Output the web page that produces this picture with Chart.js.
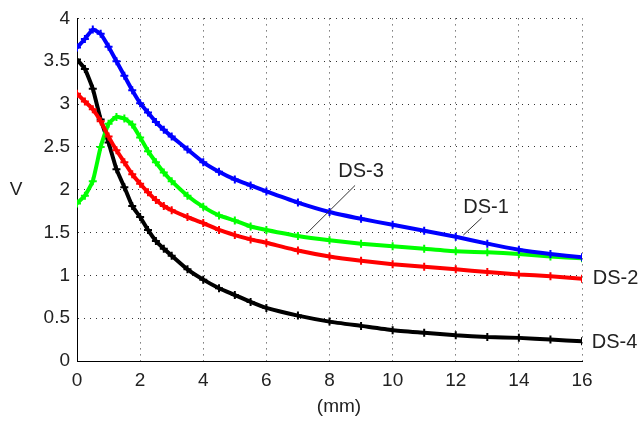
<!DOCTYPE html>
<html>
<head>
<meta charset="utf-8">
<script src="https://cdn.jsdelivr.net/npm/chart.js@4"></script>
<style>
  body { margin: 0; background: #fff; }
  #wrap { width: 641px; height: 421px; }
</style>
</head>
<body>
<div id="wrap"><canvas id="sensorChart" width="641" height="421"></canvas></div>
<script>
// distance along the sample (mm)
const xs = [0, 0.25, 0.5, 0.75, 1, 1.25, 1.5, 1.75, 2, 2.25, 2.5, 2.75, 3, 3.5, 4, 4.5, 5, 5.5, 6, 7, 8, 9, 10, 11, 12, 13, 14, 15, 16];

// output voltage of each sensor (V)
const ds1 = [3.66, 3.76, 3.87, 3.82, 3.67, 3.50, 3.33, 3.16, 3.01, 2.90, 2.79, 2.70, 2.62, 2.47, 2.32, 2.21, 2.12, 2.05, 1.98, 1.85, 1.74, 1.66, 1.59, 1.52, 1.45, 1.37, 1.30, 1.25, 1.21];
const ds2 = [3.12, 3.03, 2.94, 2.80, 2.62, 2.46, 2.32, 2.18, 2.07, 1.97, 1.88, 1.81, 1.76, 1.68, 1.61, 1.53, 1.47, 1.42, 1.38, 1.29, 1.22, 1.17, 1.13, 1.10, 1.07, 1.04, 1.01, 0.99, 0.96];
const ds3 = [1.84, 1.93, 2.10, 2.50, 2.77, 2.85, 2.83, 2.76, 2.61, 2.45, 2.32, 2.20, 2.10, 1.93, 1.80, 1.70, 1.64, 1.57, 1.53, 1.46, 1.41, 1.37, 1.34, 1.31, 1.28, 1.27, 1.25, 1.22, 1.20];
const ds4 = [3.52, 3.41, 3.18, 2.82, 2.55, 2.24, 2.03, 1.81, 1.68, 1.53, 1.40, 1.31, 1.23, 1.07, 0.95, 0.85, 0.77, 0.69, 0.62, 0.53, 0.46, 0.41, 0.36, 0.33, 0.30, 0.28, 0.27, 0.25, 0.23];

const seriesNames = ['DS-1', 'DS-2', 'DS-3', 'DS-4'];
const seriesColors = ['#0000ff', '#ff0000', '#00ff00', '#000000'];

// curve labels, placed in data coordinates (text anchor + optional leader line)
const notes = [
    { text: 'DS-1', x: 12.96, y: 1.79, align: 'center', line: [12.82, 1.67, 12.24, 1.47] },
    { text: 'DS-3', x: 9.0, y: 2.21, align: 'center', line: [8.81, 2.05, 7.28, 1.49] },
    { text: 'DS-2', x: 16.34, y: 0.96, align: 'left' },
    { text: 'DS-4', x: 16.31, y: 0.22, align: 'left' }
];

const FONT = '"Liberation Sans", Arial, sans-serif';
const TEXT = '#222';

const toPoints = vals => vals.map((v, i) => ({ x: xs[i], y: v }));

const labelsPlugin = {
    id: 'labels',
    afterDraw(chart) {
        const ctx = chart.ctx;
        const sx = chart.scales.x, sy = chart.scales.y;
        ctx.save();
        ctx.fillStyle = TEXT;
        ctx.strokeStyle = '#333';
        ctx.lineWidth = 1;
        ctx.textBaseline = 'middle';
        ctx.font = '20px ' + FONT;
        notes.forEach(n => {
            if (n.line) {
                ctx.beginPath();
                ctx.moveTo(sx.getPixelForValue(n.line[0]), sy.getPixelForValue(n.line[1]));
                ctx.lineTo(sx.getPixelForValue(n.line[2]), sy.getPixelForValue(n.line[3]));
                ctx.stroke();
            }
            ctx.textAlign = n.align;
            ctx.fillText(n.text, sx.getPixelForValue(n.x), sy.getPixelForValue(n.y));
        });
        // axis titles
        ctx.font = '19px ' + FONT;
        ctx.textAlign = 'center';
        ctx.fillText('(mm)', 339, 407);
        ctx.fillText('V', 16, 190);
        ctx.restore();
    }
};

const ctx = document.getElementById('sensorChart').getContext('2d');
new Chart(ctx, {
    type: 'line',
    data: {
        datasets: seriesNames.map((name, i) => ({
            label: name,
            data: toPoints([ds1, ds2, ds3, ds4][i]),
            borderColor: seriesColors[i],
            backgroundColor: seriesColors[i],
            borderWidth: 4,
            pointStyle: 'cross',
            pointRadius: 4,
            pointBorderWidth: 2,
            tension: 0.15,
            fill: false
        }))
    },
    options: {
        responsive: false,
        animation: false,
        devicePixelRatio: 1,
        layout: { padding: { left: 0, right: 59, top: 14, bottom: 0 } },
        plugins: {
            legend: { display: false },
            tooltip: { enabled: false }
        },
        scales: {
            x: {
                type: 'linear',
                min: 0,
                max: 16,
                ticks: { stepSize: 2, padding: 8, color: TEXT, font: { family: FONT, size: 19 } },
                grid: { color: '#333', lineWidth: 1, drawTicks: false },
                border: { display: true, color: '#000', width: 1, dash: [1, 5] },
                afterFit(scale) { scale.height = 60; }
            },
            y: {
                min: 0,
                max: 4,
                ticks: {
                    stepSize: 0.5, padding: 7, color: TEXT, font: { family: FONT, size: 19 },
                    callback: v => String(v)
                },
                grid: { color: '#333', lineWidth: 1, drawTicks: false },
                border: { display: true, color: '#000', width: 1, dash: [1, 5] },
                afterFit(scale) { scale.width = 77; }
            }
        }
    },
    plugins: [labelsPlugin]
});
</script>
</body>
</html>
